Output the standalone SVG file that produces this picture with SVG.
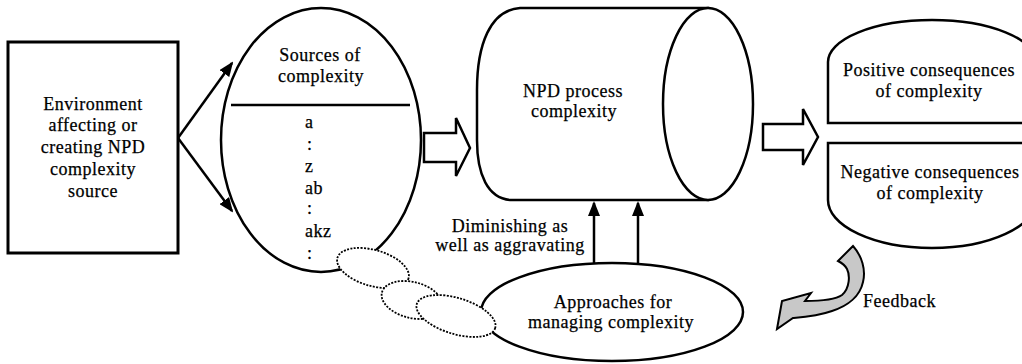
<svg xmlns="http://www.w3.org/2000/svg" width="1022" height="364" viewBox="0 0 1022 364" font-family="Liberation Serif, Times New Roman, serif">
<style>
text{font-family:'Liberation Serif','Times New Roman',serif;font-size:18px;letter-spacing:0.5px;fill:#000;stroke:#000;stroke-width:0.25px;text-anchor:middle}
.s{fill:#fff;stroke:#000;stroke-width:2.5}
.ln{fill:none;stroke:#000;stroke-width:2.5}
.dot{fill:#fff;stroke:#000;stroke-width:1.8;stroke-dasharray:2 1.4}
.st{text-anchor:start}
</style>
<defs>
<marker id="ah" viewBox="0 0 15 12" refX="13" refY="6" markerWidth="15" markerHeight="12" markerUnits="userSpaceOnUse" orient="auto">
<path d="M0,0 L15,6 L0,12 Z" fill="#000"/>
</marker>
</defs>
<rect width="1022" height="364" fill="#fff"/>

<g id="environment">
<rect x="8" y="42" width="170" height="211" fill="#fff" stroke="#000" stroke-width="3"/>
<text x="93" y="110">Environment</text>
<text x="93" y="131">affecting or</text>
<text x="93" y="153">creating NPD</text>
<text x="93" y="175">complexity</text>
<text x="93" y="197">source</text>
</g>

<g id="sources">
<ellipse class="s" cx="321" cy="140" rx="100" ry="132"/>
<line class="ln" x1="231" y1="105" x2="410" y2="105"/>
<text x="320" y="61">Sources of</text>
<text x="321" y="82">complexity</text>
<text class="st" x="305" y="128">a</text>
<text class="st" x="307" y="150">:</text>
<text class="st" x="305" y="172">z</text>
<text class="st" x="305" y="194">ab</text>
<text class="st" x="307" y="214">:</text>
<text class="st" x="305" y="237">akz</text>
<text class="st" x="307" y="259">:</text>
</g>

<g id="npd-process">
<path class="s" d="M520,8 L708,8 L708,200 L510,200 C488,198 477,175 477,140 L477,90 C477,45 490,10 520,8 Z"/>
<ellipse class="s" cx="708" cy="104" rx="45" ry="96"/>
<text x="573" y="97">NPD process</text>
<text x="574" y="117">complexity</text>
</g>

<g id="approaches">
<ellipse class="s" cx="612" cy="312" rx="131" ry="49"/>
<text x="613" y="308">Approaches for</text>
<text x="611" y="328">managing complexity</text>
</g>

<g id="dotted-ellipses">
<ellipse class="dot" cx="373" cy="268" rx="37" ry="18" transform="rotate(16 373 268)"/>
<ellipse class="dot" cx="412" cy="300" rx="31" ry="18" transform="rotate(14 412 300)"/>
<ellipse class="dot" cx="456" cy="316" rx="41" ry="18" transform="rotate(17 456 316)"/>
</g>

<g id="positive">
<path class="s" d="M828,123 L828,62 A104 42 0 0 1 1036,62 L1036,123 Z"/>
<text x="929" y="76">Positive consequences</text>
<text x="929" y="97">of complexity</text>
</g>

<g id="negative">
<path class="s" d="M828,143 L1036,143 L1036,200 A104 48 0 0 1 828,200 Z"/>
<text x="930" y="178">Negative consequences</text>
<text x="930" y="199">of complexity</text>
</g>

<g id="connectors">
<line class="ln" x1="178" y1="138" x2="232" y2="63" marker-end="url(#ah)"/>
<line class="ln" x1="178" y1="138" x2="232" y2="211" marker-end="url(#ah)"/>
<path class="s" d="M424,133 L456,133 L456,118 L470,148 L456,176 L456,162 L424,162 Z"/>
<path class="s" d="M763,124 L803,124 L803,109 L818,137 L803,165 L803,150 L763,150 Z"/>
<line class="ln" x1="594" y1="263" x2="594" y2="203" marker-end="url(#ah)"/>
<line class="ln" x1="638" y1="263" x2="638" y2="203" marker-end="url(#ah)"/>
<text x="510" y="232">Diminishing as</text>
<text x="510" y="251">well as aggravating</text>
<path d="M777,329 L782,301 L811,293 L805,301 C820,301 835,300 842,295 C850,288 850,275 847,269 C845,265 842,263 838,261 L853,246 C862,256 866,270 863,282 C860,296 848,306 832,311 C818,316 805,317 793,318 Z" fill="#c8c8c8" stroke="#000" stroke-width="2"/>
<text class="st" x="863" y="307">Feedback</text>
</g>
</svg>
